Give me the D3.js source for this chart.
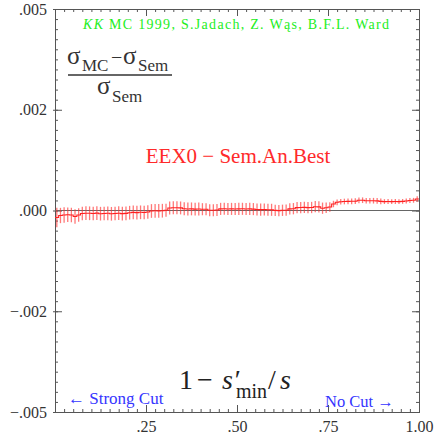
<!DOCTYPE html>
<html>
<head>
<meta charset="utf-8">
<script src="https://cdn.jsdelivr.net/npm/d3@7"></script>
<style>
  body { margin: 0; background: #fff; }
  svg { display: block; }
  svg text { font-family: "Liberation Serif", "Times New Roman", serif; }
</style>
</head>
<body>
<svg id="plot" width="436" height="436"></svg>
<script>
// bins of 1 - s'min/s, width 0.01, starting at 0
const binStart = 0;
const binWidth = 0.01;

// (sigma_MC - sigma_Sem)/sigma_Sem, in units of 1e-5
const ratio = [
  -17.4, -12.4, -11.2, -10.7, -11.2, -14.9, -11.2, -7.4, -6.7, -6.9,
  -7.4, -6.4, -7.9, -7.4, -6.9, -8.2, -7.4, -6.7, -7.7, -7.2,
  -5.5, -4.7, -5.2, -4.5, -5.0, -3.7, -1.2, -0.7, -1.0, -0.5,
  0.7, 6.2, 6.9, 6.7, 6.4, 4.5, 3.7, 4.0, 3.5, 3.7,
  3.2, 3.0, 0.7, 0.5, 1.2, 4.0, 4.2, 3.7, 4.0, 3.7,
  4.0, 4.2, 3.7, 4.0, 3.5, 2.5, 2.2, 2.5, 2.0, 1.7,
  0.2, -0.2, 0.5, 0.7, 4.0, 4.5, 7.2, 7.4, 7.7, 7.2,
  7.4, 9.4, 8.9, 5.7, 6.7, 8.7, 16.1, 20.3, 21.8, 22.3,
  22.6, 22.8, 23.1, 25.3, 25.5, 24.3, 24.1, 24.3, 23.8, 22.6,
  22.1, 22.3, 22.1, 22.3, 22.1, 22.6, 23.6, 24.8, 25.3, 28.5
];
const ratioErr = [
  24, 19, 19, 18, 18, 18, 17, 17, 17, 17,
  17, 17, 17, 17, 17, 17, 17, 17, 17, 17,
  17, 17, 17, 17, 17, 17, 17, 17, 17, 17,
  16, 16, 16, 16, 16, 16, 16, 16, 16, 16,
  15, 15, 15, 15, 15, 15, 15, 15, 15, 15,
  15, 15, 15, 15, 15, 15, 15, 15, 15, 15,
  14, 14, 14, 14, 14, 14, 14, 14, 14, 14,
  14, 14, 14, 14, 13, 12, 8, 7, 7, 7,
  7, 7, 7, 7, 7, 7, 7, 7, 7, 7,
  6, 6, 6, 6, 6, 6, 6, 6, 6, 7
];
const unit = 1e-5;

const xMajor = [0.25, 0.5, 0.75, 1.0];
const xLabels = [".25", ".50", ".75", "1.00"];
const yMajor = [-0.005, -0.0025, 0, 0.0025, 0.005];
const yLabels = ["\u2212.005", "\u2212.002", ".000", ".002", ".005"];

const svg = d3.select("#plot");
const m = { left: 55, right: 419, top: 9, bottom: 412 };

const x = d3.scaleLinear().domain([0, 1]).range([m.left, m.right]);
const y = d3.scaleLinear().domain([-0.005, 0.005]).range([m.bottom, m.top]);

const frameColor = "#555";
const textColor = "#333";

const xMinor = d3.range(0, 1.0001, 0.025);
const yMinor = d3.range(-0.005, 0.00501, 0.00025);

function styleAxis(g) {
  g.attr("font-family", null);
  g.select(".domain").attr("stroke", frameColor);
  g.selectAll(".tick line").attr("stroke", frameColor);
}

// minor ticks, pointing inward on all four sides
svg.append("g").attr("transform", `translate(0,${m.bottom})`)
  .call(d3.axisBottom(x).tickValues(xMinor).tickSize(-3).tickFormat(""))
  .call(styleAxis);
svg.append("g").attr("transform", `translate(0,${m.top})`)
  .call(d3.axisTop(x).tickValues(xMinor).tickSize(-3).tickFormat(""))
  .call(styleAxis);
svg.append("g").attr("transform", `translate(${m.left},0)`)
  .call(d3.axisLeft(y).tickValues(yMinor).tickSize(-3).tickFormat(""))
  .call(styleAxis);
svg.append("g").attr("transform", `translate(${m.right},0)`)
  .call(d3.axisRight(y).tickValues(yMinor).tickSize(-3).tickFormat(""))
  .call(styleAxis);

// major ticks
const xAxis = svg.append("g").attr("transform", `translate(0,${m.bottom})`)
  .call(d3.axisBottom(x).tickValues(xMajor).tickSize(-7).tickSizeOuter(0)
    .tickPadding(9).tickFormat((d, i) => xLabels[i]))
  .call(styleAxis);
xAxis.selectAll("text")
  .attr("fill", textColor)
  .style("font-size", "16px");

const yAxis = svg.append("g").attr("transform", `translate(${m.left},0)`)
  .call(d3.axisLeft(y).tickValues(yMajor).tickSize(-7).tickSizeOuter(0)
    .tickPadding(8).tickFormat((d, i) => yLabels[i]))
  .call(styleAxis);
yAxis.selectAll("text")
  .attr("fill", textColor)
  .style("font-size", "16px");
yAxis.selectAll(".tick").append("line")
  .attr("x1", -2).attr("x2", 0).attr("stroke", frameColor);

svg.append("g").attr("transform", `translate(0,${m.top})`)
  .call(d3.axisTop(x).tickValues(xMajor).tickSize(-7).tickSizeOuter(0).tickFormat(""))
  .call(styleAxis);
svg.append("g").attr("transform", `translate(${m.right},0)`)
  .call(d3.axisRight(y).tickValues(yMajor).tickSize(-7).tickSizeOuter(0).tickFormat(""))
  .call(styleAxis);

// zero line
svg.append("line")
  .attr("x1", x(0)).attr("x2", x(1))
  .attr("y1", y(0)).attr("y2", y(0))
  .attr("stroke", "#666").attr("stroke-width", 1);

// data
const pts = ratio.map((v, i) => ({
  lo: binStart + i * binWidth,
  hi: binStart + (i + 1) * binWidth,
  mid: binStart + (i + 0.5) * binWidth,
  v: v * unit,
  e: ratioErr[i] * unit
}));

svg.append("g").selectAll("line")
  .data(pts)
  .enter()
  .append("line")
  .attr("x1", d => x(d.mid)).attr("x2", d => x(d.mid))
  .attr("y1", d => y(d.v - d.e)).attr("y2", d => y(d.v + d.e))
  .attr("stroke", "#ff3030")
  .attr("stroke-opacity", 0.65)
  .attr("stroke-width", 1.3);

const stepPts = [];
pts.forEach(d => { stepPts.push([d.lo, d.v]); stepPts.push([d.hi, d.v]); });
svg.append("path")
  .datum(stepPts)
  .attr("fill", "none")
  .attr("stroke", "#ff2020")
  .attr("stroke-width", 1.1)
  .attr("d", d3.line().x(d => x(d[0])).y(d => y(d[1])));

// annotations
svg.append("text")
  .attr("x", 83).attr("y", 29)
  .attr("fill", "#22ee22")
  .style("font-size", "14px")
  .attr("textLength", 306)
  .attr("lengthAdjust", "spacing")
  .html('<tspan font-style="italic">KK</tspan> MC 1999, S.Jadach, Z. Wąs, B.F.L. Ward');

const frac = svg.append("g").attr("fill", textColor);
frac.append("text").attr("x", 67).attr("y", 64).style("font-size", "25px").text("σ");
frac.append("text").attr("x", 82).attr("y", 71).style("font-size", "17px").text("MC");
frac.append("text").attr("x", 111).attr("y", 64).style("font-size", "20px").text("−");
frac.append("text").attr("x", 123).attr("y", 64).style("font-size", "25px").text("σ");
frac.append("text").attr("x", 138).attr("y", 71).style("font-size", "17px").text("Sem");
frac.append("line").attr("x1", 68).attr("x2", 172).attr("y1", 75).attr("y2", 75)
  .attr("stroke", textColor).attr("stroke-width", 1.3);
frac.append("text").attr("x", 97).attr("y", 94).style("font-size", "25px").text("σ");
frac.append("text").attr("x", 112).attr("y", 102).style("font-size", "17px").text("Sem");

svg.append("text")
  .attr("x", 238).attr("y", 163)
  .attr("text-anchor", "middle")
  .attr("fill", "#ff2a2a")
  .style("font-size", "21px")
  .text("EEX0 − Sem.An.Best");

const xl = svg.append("g").attr("fill", "#222");
xl.append("text").attr("x", 179).attr("y", 389).style("font-size", "28px").text("1");
xl.append("text").attr("x", 197).attr("y", 389).style("font-size", "28px").text("−");
xl.append("text").attr("x", 222).attr("y", 389).style("font-size", "28px").style("font-style", "italic").text("s′");
xl.append("text").attr("x", 236).attr("y", 398).style("font-size", "20px").text("min");
xl.append("text").attr("x", 268).attr("y", 389).style("font-size", "28px").text("/");
xl.append("text").attr("x", 280).attr("y", 389).style("font-size", "28px").style("font-style", "italic").text("s");

svg.append("text")
  .attr("x", 68).attr("y", 404)
  .attr("fill", "#3535ff")
  .style("font-size", "17px")
  .text("← Strong Cut");
svg.append("text")
  .attr("x", 325).attr("y", 407)
  .attr("fill", "#3535ff")
  .style("font-size", "16.5px")
  .text("No Cut →");
</script>
</body>
</html>
